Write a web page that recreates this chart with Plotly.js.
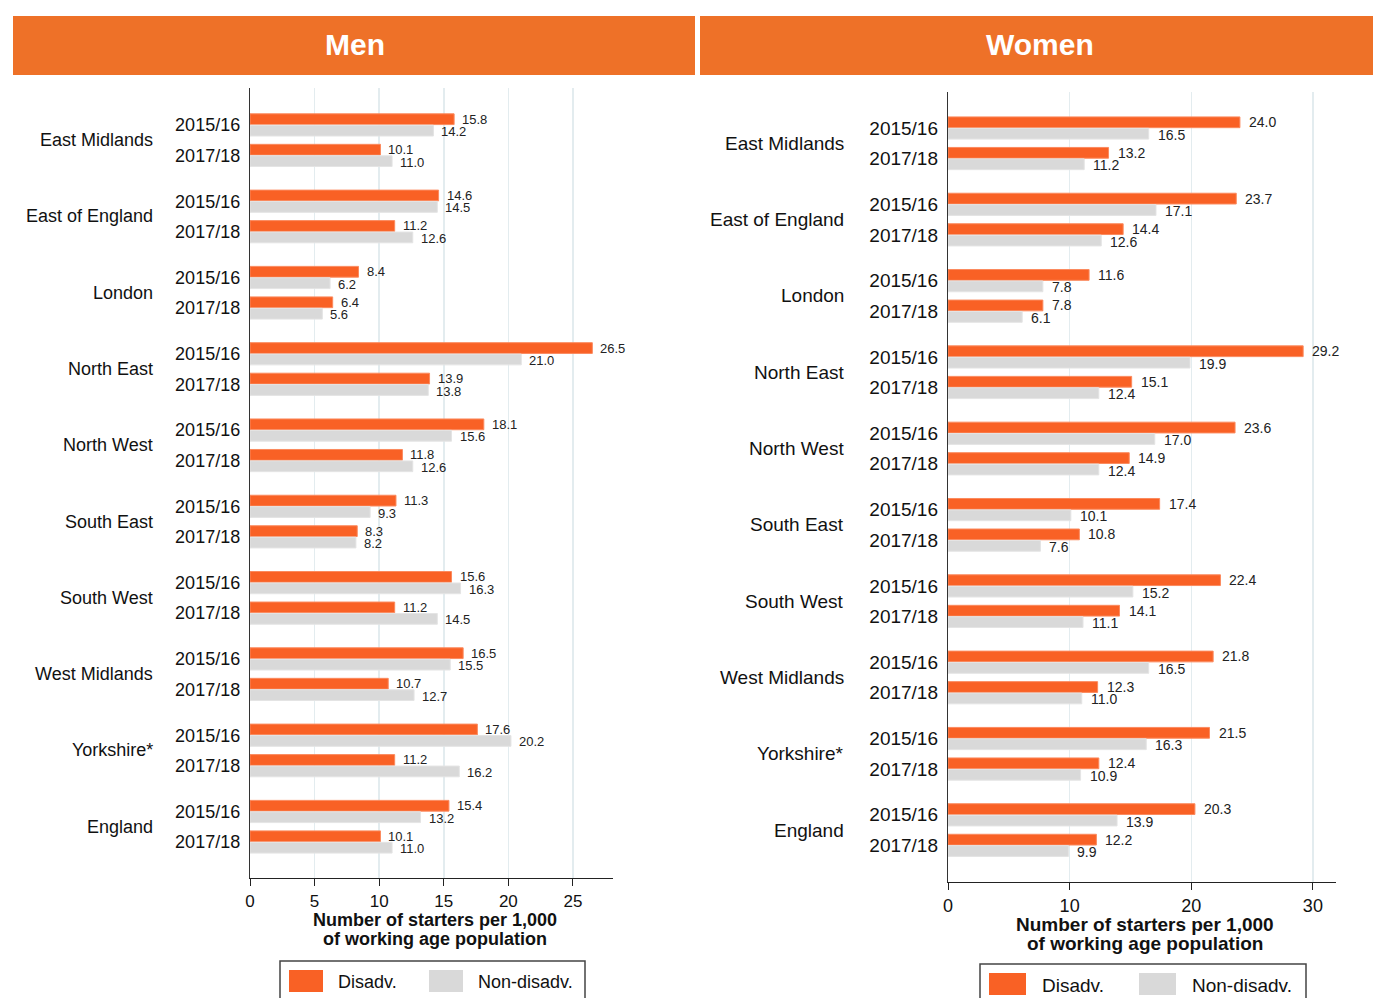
<!DOCTYPE html>
<html>
<head>
<meta charset="utf-8">
<script src="https://cdn.plot.ly/plotly-3.0.1.min.js"></script>
<style>
html,body{margin:0;padding:0;background:#fff;}
#chart{width:1373px;height:998px;}
</style>
</head>
<body>
<div id="chart"></div>
<script>
// ---- data ----
var regions = ["East Midlands","East of England","London","North East","North West","South East","South West","West Midlands","Yorkshire*","England"];
var years = ["2015/16","2017/18"];
// values in row order: region, then year (2015/16, 2017/18)
var menDisadv    = [15.8,10.1, 14.6,11.2, 8.4,6.4, 26.5,13.9, 18.1,11.8, 11.3,8.3, 15.6,11.2, 16.5,10.7, 17.6,11.2, 15.4,10.1];
var menNonDisadv = [14.2,11.0, 14.5,12.6, 6.2,5.6, 21.0,13.8, 15.6,12.6, 9.3,8.2, 16.3,14.5, 15.5,12.7, 20.2,16.2, 13.2,11.0];
var womenDisadv    = [24.0,13.2, 23.7,14.4, 11.6,7.8, 29.2,15.1, 23.6,14.9, 17.4,10.8, 22.4,14.1, 21.8,12.3, 21.5,12.4, 20.3,12.2];
var womenNonDisadv = [16.5,11.2, 17.1,12.6, 7.8,6.1, 19.9,12.4, 17.0,12.4, 10.1,7.6, 15.2,11.1, 16.5,11.0, 16.3,10.9, 13.9,9.9];
var panelTitles = ["Men","Women"];
var legendLabels = ["Disadv.","Non-disadv."];
var xTitleLines = ["Number of starters per 1,000","of working age population"];

// ---- styles ----
var ORANGE = "#f96125";
var GREY = "#d9d9d9";
var HEADER = "#ee7128";
var FONT = "Liberation Sans, Arial, sans-serif";
var W = 1373, H = 998;
function px(x){return x/W;}
function py(y){return 1 - y/H;}

// row positions
var rowPos = [], rowText = [];
regions.forEach(function(r,i){
  years.forEach(function(yv,j){ rowPos.push(i*2.5 + j); rowText.push(yv); });
});
var regionPos = regions.map(function(r,i){return i*2.5+0.5;});

var traces = [];
function addBars(xa, ya, d, nd){
  traces.push({type:"bar", orientation:"h", x:d, y:rowPos, xaxis:xa, yaxis:ya,
    marker:{color:ORANGE, line:{color:"#fb8a5e", width:1}}, showlegend:false, hoverinfo:"x"});
  traces.push({type:"bar", orientation:"h", x:nd, y:rowPos, xaxis:xa, yaxis:ya,
    marker:{color:GREY, line:{color:"#e4e4e4", width:1}}, showlegend:false, hoverinfo:"x"});
}
addBars("x","y",menDisadv,menNonDisadv);
addBars("x2","y2",womenDisadv,womenNonDisadv);

var annotations = [];
var off = 0.1875;
function addLabels(xa, ya, d, nd, fs, shift){
  rowPos.forEach(function(p,k){
    annotations.push({xref:xa, yref:ya, x:d[k], y:p-off, text:d[k].toFixed(1), showarrow:false,
      xanchor:"left", yanchor:"middle", xshift:shift, font:{family:FONT, size:fs, color:"#222"}});
    annotations.push({xref:xa, yref:ya, x:nd[k], y:p+off, text:nd[k].toFixed(1), showarrow:false,
      xanchor:"left", yanchor:"middle", xshift:shift, yshift:-1, font:{family:FONT, size:fs, color:"#222"}});
  });
}
addLabels("x","y",menDisadv,menNonDisadv,13,6);
addLabels("x2","y2",womenDisadv,womenNonDisadv,14,7);

regions.forEach(function(r,i){
  annotations.push({xref:"paper", yref:"y", x:px(155), y:regionPos[i], text:r, showarrow:false,
    xanchor:"right", yanchor:"middle", font:{family:FONT, size:18, color:"#111"}});
  annotations.push({xref:"paper", yref:"y2", x:px(846), y:regionPos[i], text:r, showarrow:false,
    xanchor:"right", yanchor:"middle", font:{family:FONT, size:19, color:"#111"}});
});

// header titles
annotations.push({xref:"paper", yref:"paper", x:px(355), y:py(45), text:"<b>"+panelTitles[0]+"</b>", showarrow:false,
  xanchor:"center", yanchor:"middle", font:{family:FONT, size:30, color:"#fff"}});
annotations.push({xref:"paper", yref:"paper", x:px(1040), y:py(45), text:"<b>"+panelTitles[1]+"</b>", showarrow:false,
  xanchor:"center", yanchor:"middle", font:{family:FONT, size:30, color:"#fff"}});

// axis titles (two tight lines)
function axTitle(cx, y1, y2, fs){
  annotations.push({xref:"paper", yref:"paper", x:px(cx), y:py(y1), text:"<b>"+xTitleLines[0]+"</b>", showarrow:false,
    xanchor:"center", yanchor:"middle", font:{family:FONT, size:fs, color:"#111"}});
  annotations.push({xref:"paper", yref:"paper", x:px(cx), y:py(y2), text:"<b>"+xTitleLines[1]+"</b>", showarrow:false,
    xanchor:"center", yanchor:"middle", font:{family:FONT, size:fs, color:"#111"}});
}
axTitle(435, 920, 939, 18);
axTitle(1145, 924, 943, 19);

// legend text
function legText(x, y, t, fs){
  annotations.push({xref:"paper", yref:"paper", x:px(x), y:py(y), text:t, showarrow:false,
    xanchor:"left", yanchor:"middle", font:{family:FONT, size:fs, color:"#111"}});
}
legText(336, 982, legendLabels[0], 18);
legText(476, 982, legendLabels[1], 18);
legText(1040, 985, legendLabels[0], 19);
legText(1190, 985, legendLabels[1], 19);

var shapes = [];
function rect(x0,y0,x1,y1,fill,line){
  shapes.push({type:"rect", xref:"paper", yref:"paper", x0:px(x0), x1:px(x1), y0:py(y1), y1:py(y0),
    fillcolor:fill, line:line||{width:0}, layer:"below"});
}
rect(13,16,695,75,HEADER);
rect(700,16,1373,75,HEADER);
// legend boxes
rect(280,961,585,1010,"rgba(0,0,0,0)",{color:"#444",width:1.5});
rect(289,970,323,992,ORANGE);
rect(429,970,463,992,GREY);
rect(980,964,1306,1010,"rgba(0,0,0,0)",{color:"#444",width:1.5});
rect(989,973,1026,995,ORANGE);
rect(1139,973,1176,995,GREY);

function xaxis(dom, range, dtick, fs){
  return {domain:dom, range:range, dtick:dtick, tick0:0, showgrid:true, gridcolor:"#e3ecef", gridwidth:1.5,
    zeroline:false, showline:true, linecolor:"#222", linewidth:1.2, ticks:"outside", ticklen:7, tickcolor:"#222",
    tickfont:{family:FONT, size:fs, color:"#111"}, fixedrange:true};
}
function yaxis(dom, range, fs){
  return {domain:dom, range:range, tickmode:"array", tickvals:rowPos, ticktext:rowText, showgrid:false,
    zeroline:false, showline:true, linecolor:"#333", linewidth:1.2, ticks:"", ticklabelstandoff:5,
    tickfont:{family:FONT, size:fs, color:"#111"}, fixedrange:true};
}

var xa1 = xaxis([px(250),px(613)],[0,28.1],5,17);
xa1.anchor = "y";
var xa2 = xaxis([px(948),px(1336)],[0,31.9],10,18);
xa2.anchor = "y2";
var ya1 = yaxis([py(878),py(88)],[24.68,-1.21],18);
ya1.anchor = "x";
var ya2 = yaxis([py(882),py(92)],[24.7,-1.18],19);
ya2.anchor = "x2";

var layout = {
  width:W, height:H, margin:{l:0,r:0,t:0,b:0},
  paper_bgcolor:"#fff", plot_bgcolor:"#fff",
  barmode:"group", bargap:0.25, bargroupgap:0.06,
  showlegend:false,
  xaxis:xa1, yaxis:ya1, xaxis2:xa2, yaxis2:ya2,
  annotations:annotations, shapes:shapes,
  font:{family:FONT}
};

Plotly.newPlot("chart", traces, layout, {displayModeBar:false, staticPlot:true});
</script>
</body>
</html>
